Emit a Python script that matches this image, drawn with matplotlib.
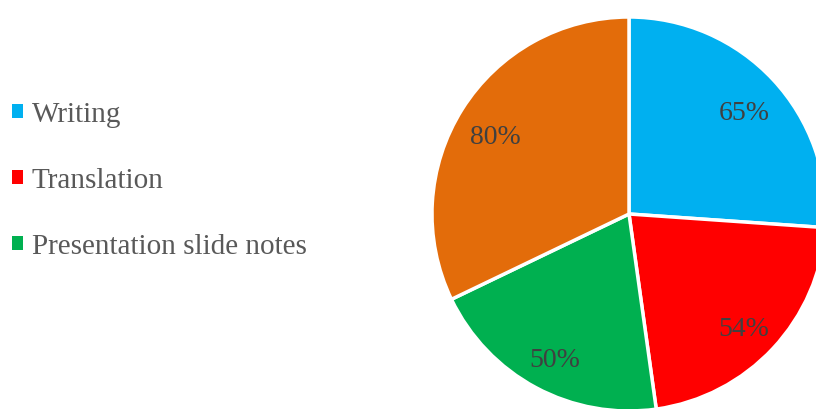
import matplotlib.pyplot as plt

categories = ["Writing", "Translation", "Presentation slide notes", ""]
values = [65, 54, 50, 80]
colors = ["#00B0F0", "#FF0000", "#00B050", "#E36C0A"]

plt.rcParams['font.family'] = ['Liberation Serif', 'DejaVu Serif']

W, H = 816, 409
fig = plt.figure(figsize=(W / 100, H / 100), dpi=100)

# pie centre / radius in pixels
cx, cy, r = 629, 214, 197
ax = fig.add_axes([(cx - r) / W, (H - cy - r) / H, 2 * r / W, 2 * r / H])
wedges, texts = ax.pie(
    values,
    colors=colors,
    startangle=90,
    counterclock=False,
    radius=1,
    labels=[f"{v}%" for v in values],
    labeldistance=0.8,
    wedgeprops=dict(edgecolor="white", linewidth=2.5),
    textprops=dict(color="#404040", fontsize=20, ha="center", va="center"),
)
# nudge the percentage labels down a little
for t in texts:
    x, y = t.get_position()
    t.set_position((x, y - 7.5 / r))
ax.set_xlim(-1, 1)
ax.set_ylim(-1, 1)
ax.set_aspect("equal")
ax.axis("off")

leg = fig.legend(
    wedges[:3], categories[:3],
    loc="upper left", bbox_to_anchor=(0.0, (H - 90) / H),
    frameon=False, fontsize=21,
    handlelength=0.38, handleheight=0.38, handletextpad=0.3,
    labelspacing=1.37, borderaxespad=0,
)
for t in leg.get_texts():
    t.set_color("#595959")
for h in leg.legend_handles:
    h.set_edgecolor("none")

fig.savefig("out.png", dpi=100)
